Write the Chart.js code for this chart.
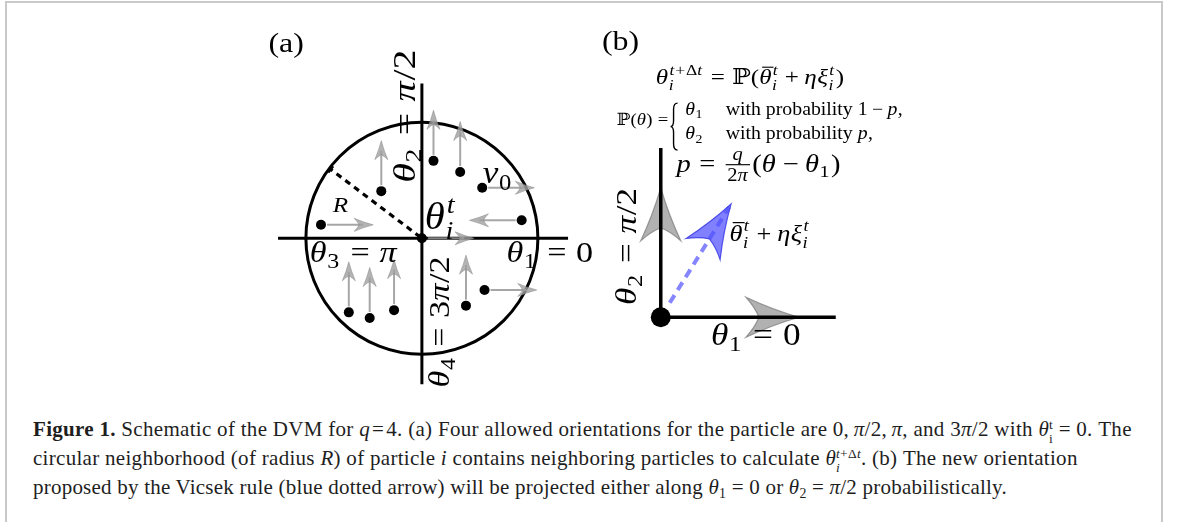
<!DOCTYPE html>
<html>
<head>
<meta charset="utf-8">
<title>DVM schematic</title>
<script src="https://cdn.jsdelivr.net/npm/chart.js@4.4.1/dist/chart.umd.min.js"></script>
<style>
  html, body { margin: 0; padding: 0; background: #fff; }
  body { width: 1179px; height: 522px; position: relative; overflow: hidden; }
  #frame { position: absolute; left: 5px; top: 1px; width: 1154px; height: 519px;
           border: 2px solid #c9c9c9; border-bottom: 1px solid #eeeeee; }
  #fig { position: absolute; left: 0; top: 0; }
  #caption { position: absolute; left: 33px; top: 416px;
             font-family: 'Liberation Serif', 'Times New Roman', serif;
             font-size: 21px; line-height: 26.7px; color: #1e1e1e; }
  #caption div { white-space: nowrap; display: table; }
  .ss { display: inline-block; font-size: 0.64em; line-height: 1.0em; vertical-align: -0.5em; }
  .ss span { display: block; }
  .sb { font-size: 0.66em; vertical-align: -0.28em; line-height: 0; }
</style>
</head>
<body>
<div id="frame"></div>
<canvas id="fig" width="1179" height="410"></canvas>
<div id="caption">
  <div data-right="1132"><b>Figure 1.</b> Schematic of the DVM for <i>q</i>&#8202;=&#8202;4. (a) Four allowed orientations for the particle are 0,&#8201;<i>π</i>/2,&#8201;<i>π</i>, and 3<i>π</i>/2 with <i>θ</i><span class="ss"><span>t</span><span>i</span></span>&#8197;=&#8197;0. The</div>
  <div data-right="1078">circular neighborhood (of radius <i>R</i>) of particle <i>i</i> contains neighboring particles to calculate <i>θ</i><span class="ss"><span><i>t</i>+Δ<i>t</i></span><span><i>i</i></span></span>. (b) The new orientation</div>
  <div data-right="1007">proposed by the Vicsek rule (blue dotted arrow) will be projected either along <i>θ</i><span class="sb">1</span>&#8197;=&#8197;0 or <i>θ</i><span class="sb">2</span>&#8197;=&#8197;<i>π</i>/2 probabilistically.</div>
</div>
<script>
// ---------- panel (a): circular neighbourhood of particle i, lengths in units of R ----------
const neighbourX   = [0.10, 0.33, 0.52, 0.86, -0.35, -0.87, 0.00, 0.54, 0.38, -0.63, -0.45, -0.24];
const neighbourY   = [0.69, 0.59, 0.45, 0.16,  0.42,  0.12, 0.00, -0.46, -0.60, -0.66, -0.71, -0.64];
const neighbourDir = [90,   90,   0,    180,   90,    0,    0,    0,    90,    90,    90,    90];   // degrees
const velocityLen  = 0.45;          // length of the v0 arrows
const radiusR      = 1;             // neighbourhood radius
const radiusAngle  = 142;           // direction of the dashed radius, degrees
const axisAX       = [-1.24, 1.26]; // extent of the theta1/theta3 axis
const axisAY       = [-1.30, 1.38]; // extent of the theta2/theta4 axis

// ---------- panel (b): projection of the Vicsek direction ----------
const axisBLen     = [1.0, 1.0];    // theta1 and theta2 axes
const allowedDir   = [0, 90];       // degrees
const allowedLen   = [0.79, 0.765];
const vicsekDir    = 59;            // degrees
const vicsekLen    = 0.78;
const vicsekStart  = 0.10;

// ---------- text placed on the two panels ----------
const labelsA = [
  { s: '\\text{(a)}',   x: -1.17,  y: 1.661,  size: 28, align: 0.5 },
  { s: 'θ_2 = π/2',     x: -0.059, y: 0.494,  size: 32, align: 0, rot: -90, stretch: 1.25 },
  { s: 'θ_4 = 3π/2',    x:  0.237, y: -1.33,  size: 30, align: 0, rot: -90 },
  { s: 'θ_3 = π',       x: -0.966, y: -0.212, size: 30, align: 0 },
  { s: 'θ_1 = 0',       x:  0.729, y: -0.212, size: 30, align: 0 },
  { s: 'θ_i^t',         x:  0.025, y: 0.085,  size: 37, align: 0, stretch: 1.1 },
  { s: 'v_0',           x:  0.525, y: 0.49,   size: 32, align: 0, stretch: 1.1 },
  { s: 'R',             x: -0.70,  y: 0.237,  size: 22, align: 0.5 }
];
const labelsB = [
  { s: '\\text{(b)}',                         x: -0.23,  y: 1.579, size: 28, align: 0.5 },
  { s: 'θ_i^{t+Δt} = ℙ(\\bar{θ}_i^t + ηξ_i^t)', x: -0.028, y: 1.376, size: 22, align: 0 },
  { s: 'ℙ(θ) =',                              x: -0.253, y: 1.135, size: 17, align: 0, stretch: 1.1 },
  { s: 'θ_1',                                 x:  0.140, y: 1.197, size: 18, align: 0, stretch: 1.1 },
  { s: '\\text{with probability }1 − p,',     x:  0.371, y: 1.197, size: 18, align: 0, stretch: 1.1 },
  { s: 'θ_2',                                 x:  0.140, y: 1.051, size: 18, align: 0, stretch: 1.1 },
  { s: '\\text{with probability }p,',         x:  0.371, y: 1.051, size: 18, align: 0, stretch: 1.1 },
  { s: 'p = \\frac{q}{2π}(θ − θ_1)',          x:  0.090, y: 0.860, size: 25, align: 0 },
  { s: '\\bar{θ}_i^t + ηξ_i^t',               x:  0.393, y: 0.449, size: 24, align: 0, stretch: 1.1 },
  { s: 'θ_2 = π/2',                           x: -0.140, y: 0.073, size: 30, align: 0, rot: -90, stretch: 1.17 },
  { s: 'θ_1 = 0',                             x:  0.287, y: -0.163, size: 31, align: 0 }
];
const braceB = { x: 0.056, y: 1.126, h: 47 };

// ---------- tiny math typesetter for canvas ----------
const GREEK = 'αβγδεζηθικλμνξπρστυφχψω';
const MATH_FONT = "'Liberation Serif', 'DejaVu Serif', serif";
const isItalic = c => /[A-Za-z]/.test(c) || GREEK.includes(c);
const fontOf = (it, size) => (it ? 'italic ' : '') + size + 'px ' + MATH_FONT;

function parseMath(s) {
  let i = 0;
  function arg() {
    if (s[i] === '{') { i++; return seq(); }
    const c = s[i++];
    return [{ k: 'g', t: c, it: isItalic(c) }];
  }
  function seq() {
    const out = [];
    while (i < s.length) {
      const c = s[i];
      if (c === '}') { i++; break; }
      if (c === ' ') { i++; continue; }
      if (c === '_' || c === '^') { i++; out.push({ k: c === '_' ? 'sub' : 'sup', n: arg() }); continue; }
      if (c === '{') { i++; out.push({ k: 'grp', n: seq() }); continue; }
      if (c === '\\') {
        const m = /^\\([a-z]+)/.exec(s.slice(i));
        i += m[0].length;
        if (m[1] === 'bar') out.push({ k: 'bar', n: arg() });
        else if (m[1] === 'frac') { const a = arg(); const b = arg(); out.push({ k: 'frac', a, b }); }
        else if (m[1] === 'text') { i++; const j = s.indexOf('}', i); out.push({ k: 'g', t: s.slice(i, j), it: false }); i = j + 1; }
        continue;
      }
      i++;
      if (c === '=') out.push({ k: 'op', t: c, pad: 0.28 });
      else if (c === '+' || c === '−') out.push({ k: 'op', t: c, pad: 0.22 });
      else out.push({ k: 'g', t: c, it: isItalic(c) });
    }
    return out;
  }
  return seq();
}

// lays out (and optionally draws) a node list; returns the end x
function typeset(ctx, nodes, size, x, y, draw, lvl) {
  lvl = lvl || 0;
  let cx = x;
  for (let j = 0; j < nodes.length; j++) {
    const n = nodes[j];
    if (n.k === 'g') {
      ctx.font = fontOf(n.it, size);
      const w = ctx.measureText(n.t).width;
      if (draw) ctx.fillText(n.t, cx, y);
      cx += w + (n.it ? size * 0.02 : 0);
    } else if (n.k === 'op') {
      ctx.font = fontOf(false, size);
      const w = ctx.measureText(n.t).width;
      const pad = lvl > 0 ? size * 0.04 : size * n.pad;
      cx += pad;
      if (draw) ctx.fillText(n.t, cx, y);
      cx += w + pad;
    } else if (n.k === 'sub' || n.k === 'sup') {
      let sub = n.k === 'sub' ? n : null, sup = n.k === 'sup' ? n : null;
      const nx = nodes[j + 1];
      if (nx && (nx.k === 'sub' || nx.k === 'sup') && nx.k !== n.k) {
        if (nx.k === 'sub') sub = nx; else sup = nx;
        j++;
      }
      const ss = size * 0.7;
      let w = 0;
      if (sup) w = Math.max(w, typeset(ctx, sup.n, ss, cx + size * 0.03, y - size * 0.42, draw, lvl + 1) - cx);
      if (sub) w = Math.max(w, typeset(ctx, sub.n, ss, cx, y + size * (sup ? 0.27 : 0.2), draw, lvl + 1) - cx);
      cx += w + size * 0.05;
    } else if (n.k === 'bar') {
      const x0 = cx;
      cx = typeset(ctx, n.n, size, cx, y, draw, lvl);
      if (draw) {
        ctx.fillRect(x0 + size * 0.12, y - size * 0.8, cx - x0 - size * 0.06, Math.max(1, size * 0.05));
      }
    } else if (n.k === 'frac') {
      const ss = size * 0.72;
      const wa = typeset(ctx, n.a, ss, 0, 0, false, lvl + 1);
      const wb = typeset(ctx, n.b, ss, 0, 0, false, lvl + 1);
      const w = Math.max(wa, wb) + size * 0.12;
      cx += size * 0.08;
      if (draw) {
        typeset(ctx, n.a, ss, cx + (w - wa) / 2, y - size * 0.48, true, lvl + 1);
        typeset(ctx, n.b, ss, cx + (w - wb) / 2, y + size * 0.36, true, lvl + 1);
        ctx.fillRect(cx, y - size * 0.3, w, Math.max(1, size * 0.045));
      }
      cx += w + size * 0.08;
    } else if (n.k === 'grp') {
      cx = typeset(ctx, n.n, size, cx, y, draw, lvl);
    }
  }
  return cx;
}

function drawLabel(ctx, lab, px, py) {
  const nodes = parseMath(lab.s);
  const w = typeset(ctx, nodes, lab.size, 0, 0, false);
  ctx.save();
  ctx.translate(px, py);
  if (lab.rot) ctx.rotate(lab.rot * Math.PI / 180);
  ctx.scale(lab.stretch || 1.14, 1);   // wider, TeX-like proportions
  ctx.fillStyle = '#000';
  ctx.textBaseline = 'alphabetic';
  typeset(ctx, nodes, lab.size, -w * lab.align, 0, true);
  ctx.restore();
}

// stealth-type arrow head with a concave back, tip at (tx, ty)
function arrowHead(ctx, tx, ty, ang, len, hw, notch, fill, stroke, lw) {
  const ux = Math.cos(ang), uy = Math.sin(ang), nx = -uy, ny = ux;
  const bx = tx - ux * len, by = ty - uy * len;
  const c1x = bx + nx * hw, c1y = by + ny * hw;
  const c2x = bx - nx * hw, c2y = by - ny * hw;
  const mx = tx - ux * (len - notch), my = ty - uy * (len - notch);
  const k = hw * 0.12;
  ctx.beginPath();
  ctx.moveTo(tx, ty);
  ctx.quadraticCurveTo((tx + c1x) / 2 - nx * k, (ty + c1y) / 2 - ny * k, c1x, c1y);
  ctx.quadraticCurveTo((c1x + mx) / 2 + ux * k, (c1y + my) / 2 + uy * k, mx, my);
  ctx.quadraticCurveTo((c2x + mx) / 2 + ux * k, (c2y + my) / 2 + uy * k, c2x, c2y);
  ctx.quadraticCurveTo((tx + c2x) / 2 + nx * k, (ty + c2y) / 2 + ny * k, tx, ty);
  ctx.closePath();
  ctx.fillStyle = fill;
  ctx.fill();
  if (stroke) { ctx.strokeStyle = stroke; ctx.lineWidth = lw; ctx.lineJoin = 'miter'; ctx.stroke(); }
}

// ---------- scales: one pixel frame, two schematic coordinate systems ----------
const W = 1179, H = 410;
const frameA = { cx: 419, cy: 240, unit: 118 };
const frameB = { cx: 662, cy: 323, unit: 178 };
const xRange = f => ({ min: -f.cx / f.unit, max: (W - f.cx) / f.unit });
const yRange = f => ({ min: -(H - f.cy) / f.unit, max: f.cy / f.unit });
const hidden = (axis, r) => ({ type: 'linear', axis, display: false, min: r.min, max: r.max });

const rad = d => d * Math.PI / 180;
const polar = (len, deg) => ({ x: len * Math.cos(rad(deg)), y: len * Math.sin(rad(deg)) });

const lineDs = (data, xAxisID, yAxisID, extra) => Object.assign({
  data, xAxisID, yAxisID, showLine: true, pointRadius: 0, borderColor: '#000',
  borderWidth: 3, borderCapStyle: 'butt', borderJoinStyle: 'miter', fill: false, tension: 0
}, extra);

const datasets = [
  // panel (a)
  { data: neighbourX.map((x, k) => ({ x, y: neighbourY[k] })), xAxisID: 'xa', yAxisID: 'ya',
    pointRadius: 5, pointBackgroundColor: '#000', pointBorderWidth: 0, showLine: false, order: 1 },
  lineDs([{ x: axisAX[0], y: 0 }, { x: axisAX[1], y: 0 }], 'xa', 'ya', { order: 5 }),
  lineDs([{ x: 0, y: axisAY[0] }, { x: 0, y: axisAY[1] }], 'xa', 'ya', { order: 5 }),
  lineDs([{ x: 0, y: 0 }, polar(radiusR, radiusAngle)], 'xa', 'ya', { borderWidth: 3.2, borderDash: [6, 5], borderDashOffset: -2, order: 4 }),
  // panel (b)
  { data: [{ x: 0, y: 0 }], xAxisID: 'xb', yAxisID: 'yb', pointRadius: 10,
    pointBackgroundColor: '#000', pointBorderWidth: 0, showLine: false, order: 1 },
  lineDs([{ x: 0, y: axisBLen[1] }, { x: 0, y: 0 }, { x: axisBLen[0], y: 0 }], 'xb', 'yb', { borderWidth: 3.5, order: 5 }),
  lineDs([polar(vicsekStart, vicsekDir), polar(vicsekLen - 0.02, vicsekDir)], 'xb', 'yb',
    { borderColor: '#8585ff', borderWidth: 4, borderDash: [9, 6], order: 4 })
];

const schematic = {
  id: 'schematic',
  beforeDatasetsDraw(chart) {
    const ctx = chart.ctx;
    const xa = chart.scales.xa, ya = chart.scales.ya, xb = chart.scales.xb, yb = chart.scales.yb;
    ctx.save();
    // neighbourhood circle
    const r = xa.getPixelForValue(radiusR) - xa.getPixelForValue(0);
    ctx.beginPath();
    ctx.arc(xa.getPixelForValue(0), ya.getPixelForValue(0), r, 0, Math.PI * 2);
    ctx.lineWidth = 3;
    ctx.strokeStyle = '#000';
    ctx.stroke();
    // allowed orientations in panel (b), underneath the axes
    allowedDir.forEach((d, k) => {
      const tip = polar(allowedLen[k], d);
      const px = xb.getPixelForValue(tip.x), py = yb.getPixelForValue(tip.y);
      const ang = Math.atan2(yb.getPixelForValue(Math.sin(rad(d))) - yb.getPixelForValue(0),
                             xb.getPixelForValue(Math.cos(rad(d))) - xb.getPixelForValue(0));
      arrowHead(ctx, px, py, ang, 53, 20, 13, 'rgba(168,168,168,0.9)', 'rgba(120,120,120,0.7)', 1.2);
    });
    ctx.restore();
  },
  afterDatasetsDraw(chart) {
    const ctx = chart.ctx;
    const xa = chart.scales.xa, ya = chart.scales.ya, xb = chart.scales.xb, yb = chart.scales.yb;
    ctx.save();
    // v0 arrows of the neighbours
    neighbourX.forEach((x, k) => {
      const d = polar(velocityLen, neighbourDir[k]);
      const x0 = xa.getPixelForValue(x), y0 = ya.getPixelForValue(neighbourY[k]);
      const x1 = xa.getPixelForValue(x + d.x), y1 = ya.getPixelForValue(neighbourY[k] + d.y);
      const ang = Math.atan2(y1 - y0, x1 - x0);
      const ux = Math.cos(ang), uy = Math.sin(ang);
      ctx.beginPath();
      ctx.moveTo(x0 + ux * 6, y0 + uy * 6);
      ctx.lineTo(x1 - ux * 10, y1 - uy * 10);
      ctx.strokeStyle = 'rgba(150,150,150,0.85)';
      ctx.lineWidth = 2;
      ctx.stroke();
      arrowHead(ctx, x1, y1, ang, 19, 6.5, 5, 'rgba(160,160,160,0.8)', 'rgba(130,130,130,0.6)', 0.8);
    });
    // end mark of the dashed radius
    const e = polar(radiusR, radiusAngle);
    const ex = xa.getPixelForValue(e.x), ey = ya.getPixelForValue(e.y);
    const ta = Math.atan2(ey - ya.getPixelForValue(0), ex - xa.getPixelForValue(0)) + Math.PI / 2;
    ctx.beginPath();
    ctx.moveTo(ex - Math.cos(ta) * 4, ey - Math.sin(ta) * 4);
    ctx.lineTo(ex + Math.cos(ta) * 4, ey + Math.sin(ta) * 4);
    ctx.lineWidth = 3;
    ctx.strokeStyle = '#000';
    ctx.stroke();
    // Vicsek proposal head
    const tip = polar(vicsekLen, vicsekDir);
    const tx = xb.getPixelForValue(tip.x), ty = yb.getPixelForValue(tip.y);
    const va = Math.atan2(ty - yb.getPixelForValue(0), tx - xb.getPixelForValue(0));
    arrowHead(ctx, tx, ty, va, 53, 20, 12, 'rgba(80,80,255,0.72)', 'rgba(60,60,230,0.85)', 1.2);
    // labels
    labelsA.forEach(l => drawLabel(ctx, l, xa.getPixelForValue(l.x), ya.getPixelForValue(l.y)));
    labelsB.forEach(l => drawLabel(ctx, l, xb.getPixelForValue(l.x), yb.getPixelForValue(l.y)));
    // brace of the piecewise definition
    const bx = xb.getPixelForValue(braceB.x), by = yb.getPixelForValue(braceB.y);
    const top = by - braceB.h / 2, bot = by + braceB.h / 2, w = 7, s = 3;
    ctx.beginPath();
    ctx.moveTo(bx + w, top);
    ctx.quadraticCurveTo(bx + s, top, bx + s, top + 6);
    ctx.lineTo(bx + s, by - 6);
    ctx.quadraticCurveTo(bx + s, by, bx, by);
    ctx.quadraticCurveTo(bx + s, by, bx + s, by + 6);
    ctx.lineTo(bx + s, bot - 6);
    ctx.quadraticCurveTo(bx + s, bot, bx + w, bot);
    ctx.lineWidth = 1.4;
    ctx.strokeStyle = '#000';
    ctx.stroke();
    ctx.restore();
  }
};

new Chart(document.getElementById('fig'), {
  type: 'scatter',
  data: { datasets },
  options: {
    responsive: false,
    animation: false,
    devicePixelRatio: 1,
    events: [],
    layout: { padding: 0 },
    scales: {
      xa: hidden('x', xRange(frameA)), ya: hidden('y', yRange(frameA)),
      xb: hidden('x', xRange(frameB)), yb: hidden('y', yRange(frameB))
    },
    plugins: { legend: { display: false }, tooltip: { enabled: false }, title: { display: false } }
  },
  plugins: [schematic]
});

// caption lines: track each line out so that it ends where it should
document.querySelectorAll('#caption div').forEach(line => {
  const box = line.getBoundingClientRect();
  const chars = line.textContent.replace(/\s+/g, ' ').trim().length;
  const target = parseFloat(line.dataset.right) - box.left;
  line.style.letterSpacing = ((target - box.width) / chars).toFixed(3) + 'px';
});
</script>
</body>
</html>
